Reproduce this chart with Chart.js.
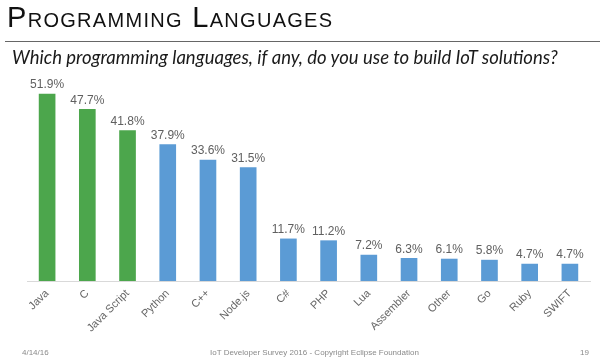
<!DOCTYPE html>
<html>
<head>
<meta charset="utf-8">
<script src="https://cdn.jsdelivr.net/npm/chart.js@4.4.0/dist/chart.umd.min.js"></script>
<style>
  html, body { margin: 0; padding: 0; background: #fff; }
  #wrap { position: relative; width: 600px; height: 360px; overflow: hidden; }
  #c { position: absolute; left: 0; top: 0; }
  .t { position: absolute; white-space: nowrap; }
  #title { left: 7px; top: 1px; font-family: "Liberation Sans", sans-serif; font-size: 29px; font-variant: small-caps; color: #111; letter-spacing: 1.3px; }
  #rule { position: absolute; left: 5px; top: 41px; width: 595px; height: 0; border-top: 1.5px solid #666; }
  #sub { left: 12px; top: 46px; font-family: Lato, sans-serif; font-style: italic; font-size: 18.5px; color: #1a1a1a; }
  .foot { top: 348px; font-family: "Liberation Sans", sans-serif; font-size: 8px; color: #8a8a8a; }
</style>
</head>
<body>
<div id="wrap">
  <canvas id="c" width="600" height="360"></canvas>
  <div class="t" id="title">Programming Languages</div>
  <div id="rule"></div>
  <div class="t" id="sub">Which programming languages, if any, do you use to build IoT solutions?</div>
  <div class="t foot" style="left:22px">4/14/16</div>
  <div class="t foot" style="left:210px">IoT Developer Survey 2016 - Copyright Eclipse Foundation</div>
  <div class="t foot" style="left:580px">19</div>
</div>
<script>
const categories = ["Java", "C", "Java Script", "Python", "C++", "Node.js", "C#", "PHP", "Lua", "Assembler", "Other", "Go", "Ruby", "SWIFT"];
const values = [51.9, 47.7, 41.8, 37.9, 33.6, 31.5, 11.7, 11.2, 7.2, 6.3, 6.1, 5.8, 4.7, 4.7];
const highlighted = ["Java", "C", "Java Script"];

const GREEN = "#4CA64C";
const BLUE = "#5B9BD5";

const valueLabels = {
  id: "valueLabels",
  afterDatasetsDraw(chart) {
    const ctx = chart.ctx;
    const meta = chart.getDatasetMeta(0);
    ctx.save();
    ctx.fillStyle = "#606060";
    ctx.font = '12px "Liberation Sans", sans-serif';
    ctx.textAlign = "center";
    ctx.textBaseline = "bottom";
    meta.data.forEach((bar, i) => {
      ctx.fillText(values[i].toFixed(1) + "%", bar.x, bar.y - 3);
    });
    ctx.restore();
  }
};

new Chart(document.getElementById("c"), {
  type: "bar",
  data: {
    labels: categories,
    datasets: [{
      data: values,
      backgroundColor: categories.map(c => highlighted.includes(c) ? GREEN : BLUE),
      barThickness: 16
    }]
  },
  options: {
    responsive: false,
    animation: false,
    layout: { padding: { left: 27, right: 10, top: 65, bottom: 0 } },
    plugins: { legend: { display: false }, tooltip: { enabled: false } },
    scales: {
      y: { display: false, min: 0, max: 60 },
      x: {
        grid: { display: false, drawTicks: false },
        border: { display: true, color: "#d9d9d9", width: 1 },
        ticks: {
          color: "#666666",
          font: { family: "Liberation Sans", size: 11 },
          minRotation: 45, maxRotation: 45, padding: 6, autoSkip: false
        },
        afterFit(scale) { scale.height = 79; }
      }
    }
  },
  plugins: [valueLabels]
});
</script>
</body>
</html>
